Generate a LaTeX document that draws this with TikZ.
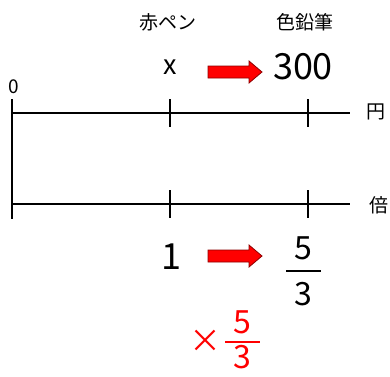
\documentclass[tikz,border=0pt]{standalone}
\usepackage{fontspec}
\setmainfont{Noto Sans CJK JP}
\begin{document}
\begin{tikzpicture}[x=1pt,y=-1pt,
  axis/.style={line width=2.6pt,black},
  lbl/.style={inner sep=0pt,font=\fontsize{19}{19}\selectfont},
  num/.style={inner sep=0pt,font=\fontsize{36}{36}\selectfont},
  fracnum/.style={inner sep=0pt,font=\fontsize{32}{32}\selectfont},
  bigarrow/.style={fill=red,draw=red!55!black,line width=0.8pt}]
\useasboundingbox (0,0) rectangle (390,376);
% axes
\coordinate (t0) at (12,113);
\coordinate (t1) at (350,113);
\coordinate (b0) at (12,204);
\coordinate (b1) at (350,204);
\draw[axis] (t0) -- (t1);
\draw[axis] (b0) -- (b1);
\draw[axis] (12,99) -- (12,219);
\draw[axis] (170,99) -- (170,127);
\draw[axis] (308,99) -- (308,127);
\draw[axis] (170,190) -- (170,218);
\draw[axis] (308,190) -- (308,218);
% labels
\node[lbl] (zero) at (14,87) {0};
\node[lbl] (en) at (376,112) {円};
\node[lbl] (bai) at (379,205) {倍};
\node[lbl] (akapen) at (168,22) {赤ペン};
\node[lbl] (iro) at (305,22) {色鉛筆};
\node[inner sep=0pt,font=\fontsize{27}{27}\selectfont] (x) at (170,67) {x};
\node[num] (n300) at (303,67) {300};
\node[num] (one) at (171,257) {1};
% fraction 5/3
\node[fracnum] (f5) at (303,248) {5};
\node[fracnum] (f3) at (303,294) {3};
\coordinate (fl) at (286,271);
\coordinate (fr) at (321,271);
\draw[line width=1.6pt] (fl) -- (fr);
% red times 5/3
\node[inner sep=0pt,text=red,font=\fontsize{32}{32}\selectfont] (times) at (205,341) {×};
\node[fracnum,text=red] (r5) at (242,322) {5};
\node[fracnum,text=red] (r3) at (242,357) {3};
\coordinate (rl) at (225,342);
\coordinate (rr) at (260,342);
\draw[red,line width=1.6pt] (rl) -- (rr);
% arrows
\draw[bigarrow] (208,66) -- (249,66) -- (249,61) -- (262,72) -- (249,83) -- (249,78) -- (208,78) -- cycle;
\draw[bigarrow] (208,250) -- (249,250) -- (249,245) -- (262,256) -- (249,267) -- (249,262) -- (208,262) -- cycle;
\end{tikzpicture}
\end{document}
